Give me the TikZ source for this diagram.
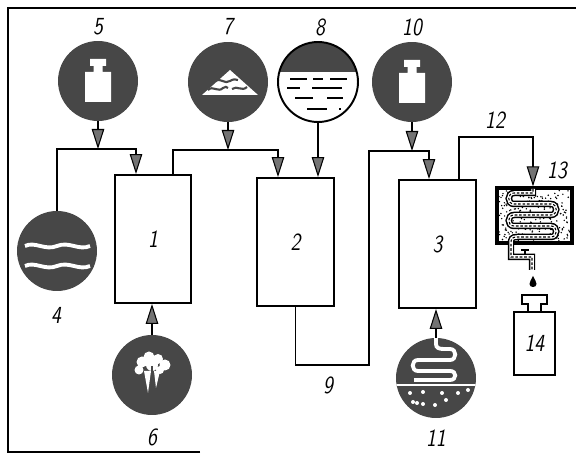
\documentclass[tikz,border=0pt]{standalone}
\usepackage{tikz}
\usetikzlibrary{arrows.meta,positioning}

\newcommand{\tagno}[1]{\scalebox{0.82}[1]{#1}}

\begin{document}
\begin{tikzpicture}[x=0.02cm,y=-0.02cm,
    every node/.style={inner sep=0pt},
    num/.style={font=\fontsize{14}{14}\sffamily\slshape},
    disk/.style={circle,fill=black!72,minimum size=1.6cm},
    tank/.style={num,draw,line width=1.1pt,fill=white,minimum width=1.53cm,minimum height=2.56cm},
    pipe/.style={line width=1.1pt},
    feed/.style={pipe,-{Triangle[length=4mm,width=2.5mm,fill=black!55,line width=0.6pt]}},
    coilout/.style={line width=0.13cm,black},
    coilin/.style={line width=0.07cm,white},
    coildash/.style={line width=0.6pt,black,dash pattern=on 1.5pt off 1pt},
  ]
    \useasboundingbox (0,0) rectangle (576,455);
    \draw[line width=1.3pt] (200,452) -- (8,452) -- (8,8) -- (576,8);

    % vessels
    \node[tank] (b1) at (153,239) {\tagno{1}};
    \node[tank] (b2) at (295.5,242) {\tagno{2}};
    \node[tank] (b3) at (437.5,244) {\tagno{3}};

    % feed disks
    \node[disk] (c5) at (98,81) {};
    \node[disk] (c7) at (228,82) {};
    \node[disk,fill=white] (c8) at (318,82) {};
    \node[disk] (c10) at (412,82) {};
    \node[disk] (c4) at (57,251) {};
    \node[disk] (c6) at (152,375) {};
    \node[disk] (c11) at (436,378) {};

    % weights
    \foreach \w in {c5,c10}
        \fill[white,shift={(\w)}] (-8,-22) rectangle (8,-15) (-4.5,-15) rectangle (4.5,-9)
            (-13,-9) rectangle (13,21);

    % heap
    \begin{scope}[shift={(c7)}]
        \fill[white] (-26,13) -- (2,-12) -- (30,13) -- cycle;
        \draw[black!72,line width=1.2pt] (-13,-1) .. controls (-8,-5) and (-3,3) .. (2,-1)
            .. controls (5,-3) and (8,-3) .. (10,-2);
        \draw[black!72,line width=1.2pt] (-20,8) .. controls (-15,3) and (-10,11) .. (-5,6)
            .. controls (-3,4) and (-1,5) .. (0,6);
        \draw[black!72,line width=1.2pt] (4,7) .. controls (9,3) and (14,10) .. (19,5);
    \end{scope}

    % liquid
    \begin{scope}
        \clip (c8) circle (0.8cm);
        \fill[black!72] (278,40) rectangle (360,72);
    \end{scope}
    \draw[line width=1.1pt] (c8) circle (0.8cm);
    \begin{scope}[shift={(c8)},line width=1.1pt]
        \draw (-28,-3) -- (-11,-3) (-5,-3) -- (5,-3) (12,-3) -- (29,-3);
        \draw (-31,6) -- (-18,6) (-6,6) -- (24,6);
        \draw (-23,16) -- (-5,16) (9,16) -- (25,16);
        \draw (-11,27) -- (9,27) (21,27) -- (23,27);
    \end{scope}

    % waves
    \begin{scope}[shift={(c4)},white,line width=2.2pt]
        \draw (-32,-5) .. controls (-22,-10) and (-12,0) .. (0,-5) .. controls (12,-10) and (22,0) .. (33,-5);
        \draw (-32,15) .. controls (-22,10) and (-12,20) .. (0,15) .. controls (12,10) and (22,20) .. (33,15);
    \end{scope}

    % steam
    \begin{scope}[shift={(c6)}]
        \fill[white] (-10,-13) circle (0.11cm) (-3,-18) circle (0.11cm) (6,-16) circle (0.1cm)
            (13,-10) circle (0.11cm) (-13,-5) circle (0.09cm) (8,-5) circle (0.08cm)
            (0,-10) circle (0.12cm);
        \fill[white] (-8,-4) -- (-1,-4) -- (-4,18) -- cycle;
        \fill[white] (2,-4) -- (8,-4) -- (4,13) -- cycle;
        \draw[black!72,line width=1pt] (0,-9) -- (0,10);
    \end{scope}

    % heating coil
    \begin{scope}
        \clip (c11) circle (0.8cm);
        \begin{scope}[shift={(c11)},white]
            \draw[line width=2.2pt] (0,-42) -- (0,-34) .. controls (0,-30) and (3,-29) .. (8,-29)
                -- (14,-29) .. controls (21,-29) and (21,-18) .. (14,-18) -- (-18,-18)
                .. controls (-25,-18) and (-25,-7) .. (-18,-7) -- (14,-7)
                .. controls (21,-7) and (21,2) .. (14,2) -- (-22,2);
            \draw[line width=0.6pt] (-40,7) -- (40,7);
            \foreach \p in {(-26,15),(-13,14),(6,15),(22,15),(32,12),(-23,24),(-19,25),(-13,26),(-1,27),(10,22)}
                \fill \p circle (0.04cm);
        \end{scope}
    \end{scope}

    % condenser
    \node[draw,line width=1.8pt,fill=white,minimum width=1.5cm,minimum height=1.1cm] (cond) at (534.5,215.5) {};
    \pgfmathsetseed{7}
    \foreach \i in {1,...,220}
        \fill ({499+71*rnd},{190+51*rnd}) circle (0.45pt);
    \foreach \s in {coilout,coilin,coildash}
        \draw[\s] (533,189) -- (533,193) -- (514,193) .. controls (507,193) and (507,204) .. (514,204)
            -- (551,204) .. controls (558,204) and (558,215) .. (551,215)
            -- (514,215) .. controls (507,215) and (507,226) .. (514,226)
            -- (551,226) .. controls (558,226) and (558,237) .. (551,237)
            -- (517,237) .. controls (512,237) and (511,239) .. (511,243) -- (511,257) -- (532,257) -- (532,270);
    \draw[line width=1.2pt] (521,250) -- (529,250) (525,250) -- (525,255);
    \fill (533,276) .. controls (531,280) and (529.5,282) .. (529.5,284)
        .. controls (529.5,288) and (536.5,288) .. (536.5,284)
        .. controls (536.5,282) and (535,280) .. (533,276) -- cycle;

    % receiver
    \node[num,draw,line width=1pt,minimum width=0.82cm,minimum height=1.26cm] (b14) at (534.5,343.5) {\tagno{14}};
    \draw[line width=1pt] (528,312) -- (528,304) -- (522,304) -- (522,295) -- (547,295)
        -- (547,304) -- (541,304) -- (541,312);

    % pipework
    \coordinate (t1) at (136,149);
    \coordinate (t2) at (278,150);
    \coordinate (t3) at (429,151);
    \coordinate (t9) at (369,365);
    \coordinate (t12) at (533,137);
    \draw[feed] (c4.north) |- (t1) -- (t1 |- b1.north);
    \draw[feed] (c5) -- (c5 |- t1);
    \draw[feed] ([xshift=0.4cm]b1.north) |- (t2) -- (t2 |- b2.north);
    \draw[feed] (c7) -- (c7 |- t2);
    \draw[feed] (c8) -- (c8 |- b2.north);
    \draw[feed] (b2.south) |- (t9) |- (t3) -- (t3 |- b3.north);
    \draw[feed] (c10) -- (c10 |- t3);
    \draw[feed] (c6) -- (c6 |- b1.south);
    \draw[feed] (c11) -- (c11 |- b3.south);
    \draw[feed] ([xshift=0.43cm]b3.north) |- (t12) -- (t12 |- cond.north);

    % numbers
    \node[num] (l5) at (98,27) {\tagno{5}};
    \node[num] (l7) at (228,27) {\tagno{7}};
    \node[num] (l8) at (320,27) {\tagno{8}};
    \node[num] (l10) at (412,27) {\tagno{10}};
    \node[num] (l4) at (56,315) {\tagno{4}};
    \node[num] (l6) at (152,437) {\tagno{6}};
    \node[num] (l9) at (328,385) {\tagno{9}};
    \node[num] (l11) at (436,438) {\tagno{11}};
    \node[num] (l12) at (495,120) {\tagno{12}};
    \node[num] (l13) at (557,170) {\tagno{13}};
\end{tikzpicture}
\end{document}
